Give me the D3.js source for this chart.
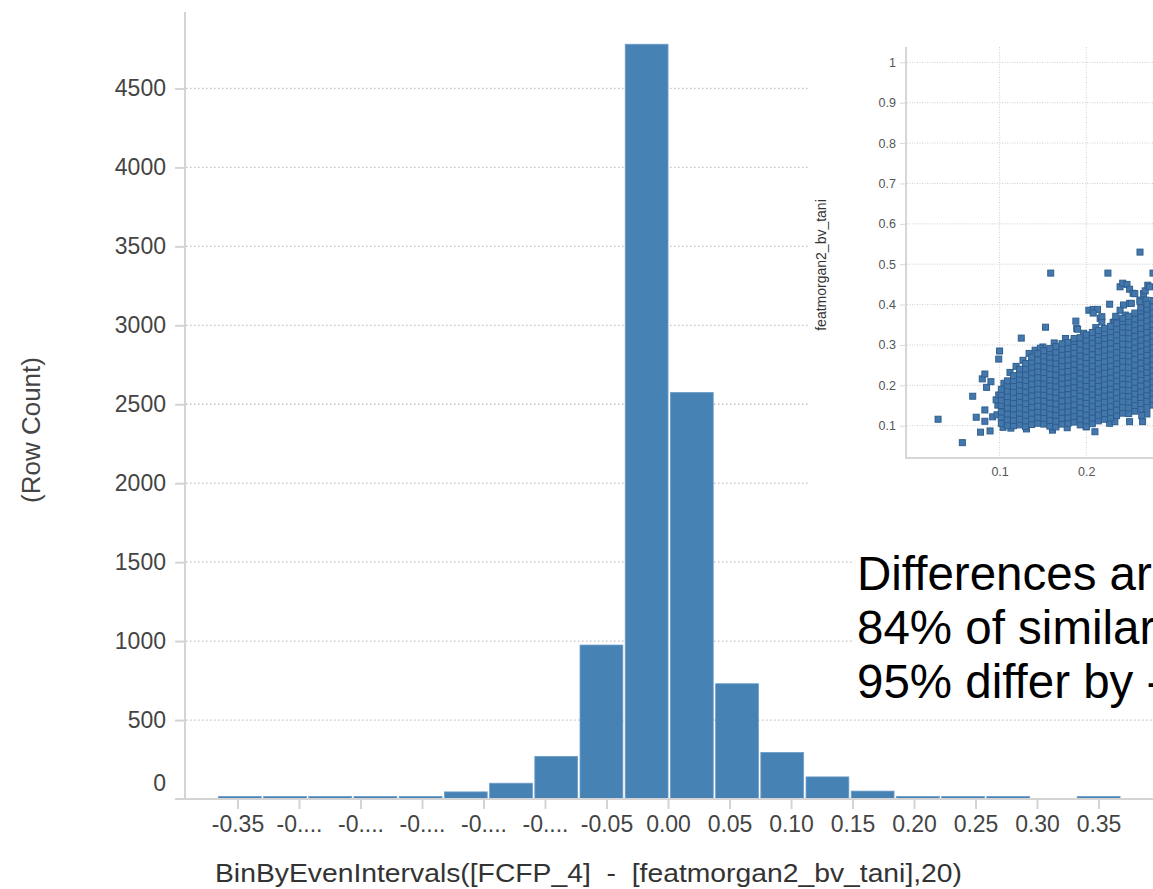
<!DOCTYPE html>
<html><head><meta charset="utf-8">
<script src="https://cdn.jsdelivr.net/npm/d3@7"></script>
<style>html,body{margin:0;padding:0;background:#fff;} svg{display:block;font-family:"Liberation Sans",Arial,sans-serif;}</style>
</head><body><svg id="c" width="1153" height="889"></svg>
<script>
// ---------- data ----------
const binCounts = [16,16,16,16,16,45,100,270,975,4780,2575,730,295,140,50,16,16,16,0,16];
const binRange = [-0.3665, 0.3685];
const xTickValues = [-0.35,-0.30,-0.25,-0.20,-0.15,-0.10,-0.05,0,0.05,0.10,0.15,0.20,0.25,0.30,0.35];
const xTickLabels = ["-0.35","-0....","-0....","-0....","-0....","-0....","-0.05","0.00","0.05","0.10","0.15","0.20","0.25","0.30","0.35"];
const yTickValues = [0,500,1000,1500,2000,2500,3000,3500,4000,4500];
const xTitle = "BinByEvenIntervals([FCFP_4]  -  [featmorgan2_bv_tani],20)";
const yTitle = "(Row Count)";

const insetYTicks = [0.1,0.2,0.3,0.4,0.5,0.6,0.7,0.8,0.9,1];
const insetYTickLabels = ["0.1","0.2","0.3","0.4","0.5","0.6","0.7","0.8","0.9","1"];
const insetXTicks = [0.1,0.2];
const insetXTickLabels = ["0.1","0.2"];
const insetYTitle = "featmorgan2_bv_tani";

const scatterOutliers = [
 [0.029,0.116],[0.057,0.058],[0.069,0.173],[0.073,0.121],[0.078,0.084],[0.083,0.139],[0.083,0.111],
 [0.080,0.216],[0.083,0.228],[0.085,0.195],[0.090,0.209],[0.089,0.087],[0.092,0.122],[0.097,0.127],
 [0.099,0.265],[0.100,0.285],[0.125,0.317],[0.153,0.344],[0.159,0.478],[0.225,0.478],[0.262,0.530],
 [0.141,0.287],[0.150,0.295],[0.188,0.359],[0.189,0.341],[0.190,0.339],[0.203,0.386],[0.208,0.388],[0.213,0.388],
 [0.208,0.379],[0.227,0.401],[0.216,0.366],[0.218,0.357],[0.218,0.370],[0.231,0.356],[0.233,0.357],[0.239,0.444],[0.242,0.453],
 [0.247,0.450],[0.250,0.438],[0.254,0.428],[0.256,0.427],[0.266,0.427],[0.268,0.434],[0.271,0.448],[0.273,0.444],[0.250,0.403],
 [0.252,0.403],[0.243,0.399],[0.262,0.411],[0.262,0.407],[0.269,0.411],[0.265,0.391],[0.266,0.386],[0.239,0.386],
 [0.245,0.374],[0.234,0.371],[0.250,0.366],[0.256,0.362],[0.263,0.360],[0.270,0.364],[0.276,0.380],[0.277,0.478],
 [0.161,0.089],[0.161,0.097],[0.210,0.085],[0.200,0.097],[0.227,0.106],[0.233,0.110],[0.250,0.110],
 [0.265,0.110],[0.270,0.129],[0.264,0.125],[0.104,0.096],[0.113,0.094],[0.131,0.092],[0.178,0.095],
 [0.098,0.151],[0.096,0.164],[0.099,0.176],[0.105,0.205],[0.112,0.232],[0.119,0.247],[0.127,0.262],
 [0.134,0.279],[0.147,0.292],[0.163,0.305],[0.176,0.316],[0.197,0.329],[0.211,0.343]
];
const scatterCore = [
 [0.102,[0.106,0.121,0.134,0.150,0.163,0.178,0.190]],
 [0.109,[0.101,0.115,0.129,0.144,0.158,0.172,0.186,0.199,0.211]],
 [0.116,[0.100,0.113,0.127,0.142,0.156,0.170,0.183,0.197,0.212,0.224]],
 [0.123,[0.102,0.116,0.131,0.144,0.159,0.173,0.187,0.201,0.215,0.228,0.240]],
 [0.130,[0.098,0.112,0.126,0.141,0.155,0.169,0.184,0.198,0.212,0.226,0.241,0.254]],
 [0.137,[0.103,0.117,0.131,0.146,0.160,0.174,0.189,0.203,0.217,0.231,0.245,0.258,0.270]],
 [0.144,[0.106,0.120,0.134,0.148,0.163,0.177,0.191,0.205,0.219,0.234,0.248,0.262,0.279]],
 [0.151,[0.104,0.118,0.133,0.147,0.161,0.176,0.190,0.204,0.218,0.232,0.246,0.260,0.273,0.286]],
 [0.158,[0.099,0.113,0.128,0.142,0.156,0.171,0.185,0.199,0.213,0.227,0.242,0.256,0.270,0.283,0.291]],
 [0.165,[0.097,0.111,0.126,0.140,0.154,0.169,0.183,0.197,0.211,0.226,0.240,0.254,0.268,0.282,0.296]],
 [0.172,[0.104,0.118,0.133,0.147,0.161,0.176,0.190,0.204,0.218,0.233,0.247,0.261,0.275,0.289,0.303]],
 [0.179,[0.106,0.120,0.134,0.149,0.163,0.177,0.192,0.206,0.220,0.234,0.249,0.263,0.277,0.291,0.306]],
 [0.186,[0.109,0.123,0.137,0.152,0.166,0.180,0.195,0.209,0.223,0.237,0.252,0.266,0.280,0.294,0.309,0.316]],
 [0.193,[0.102,0.116,0.131,0.145,0.159,0.174,0.188,0.202,0.216,0.231,0.245,0.259,0.273,0.288,0.302,0.318]],
 [0.200,[0.098,0.112,0.127,0.141,0.155,0.170,0.184,0.198,0.212,0.227,0.241,0.255,0.269,0.284,0.298,0.312,0.325]],
 [0.207,[0.105,0.119,0.134,0.148,0.162,0.177,0.191,0.205,0.219,0.234,0.248,0.262,0.276,0.291,0.305,0.319,0.331]],
 [0.214,[0.112,0.126,0.141,0.155,0.169,0.184,0.198,0.212,0.226,0.241,0.255,0.269,0.283,0.298,0.312,0.326,0.336]],
 [0.221,[0.116,0.130,0.145,0.159,0.173,0.188,0.202,0.216,0.230,0.245,0.259,0.273,0.287,0.302,0.316,0.330,0.341]],
 [0.228,[0.119,0.133,0.148,0.162,0.176,0.191,0.205,0.219,0.233,0.248,0.262,0.276,0.290,0.305,0.319,0.333,0.346]],
 [0.235,[0.125,0.139,0.154,0.168,0.182,0.197,0.211,0.225,0.239,0.254,0.268,0.282,0.296,0.311,0.325,0.339,0.354]],
 [0.242,[0.131,0.145,0.160,0.174,0.188,0.203,0.217,0.231,0.245,0.260,0.274,0.288,0.302,0.317,0.331,0.345,0.358,0.366]],
 [0.249,[0.130,0.144,0.159,0.173,0.187,0.202,0.216,0.230,0.244,0.259,0.273,0.287,0.301,0.316,0.330,0.344,0.358,0.371]],
 [0.256,[0.136,0.150,0.165,0.179,0.193,0.208,0.222,0.236,0.250,0.265,0.279,0.293,0.307,0.322,0.336,0.350,0.364,0.379]],
 [0.263,[0.141,0.155,0.170,0.184,0.198,0.213,0.227,0.241,0.255,0.270,0.284,0.298,0.312,0.327,0.341,0.355,0.369,0.384,0.392]],
 [0.270,[0.146,0.160,0.175,0.189,0.203,0.218,0.232,0.246,0.260,0.275,0.289,0.303,0.317,0.332,0.346,0.360,0.374,0.389,0.401]],
 [0.277,[0.151,0.165,0.180,0.194,0.208,0.223,0.237,0.251,0.265,0.280,0.294,0.308,0.322,0.337,0.351,0.365,0.379,0.394,0.410]]
];
const noteLines = ["Differences ar", "84% of similar", "95% differ by -"];

// ---------- drawing ----------
const svg = d3.select("#c");
svg.append("rect").attr("width",1153).attr("height",889).attr("fill","#fff");

const x = d3.scaleLinear().domain([-0.35,0.35]).range([237.5,1098.5]);
const y = d3.scaleLinear().domain([0,5000]).range([799,9.5]);
const axisCol = "#d4d4d4", gridCol = "#c2c2c2", tickText = "#444";

// gridlines
svg.append("g").selectAll("line").data(yTickValues.filter(v=>v>0)).join("line")
  .attr("x1",186).attr("x2",1153).attr("y1",d=>y(d)).attr("y2",d=>y(d))
  .attr("stroke",gridCol).attr("stroke-width",1.3).attr("stroke-dasharray","1.5,2.5");

// bars
const n = binCounts.length;
const edges = d3.range(n+1).map(i => binRange[0] + i*(binRange[1]-binRange[0])/n);
const bins = binCounts.map((c,i)=>({x0:edges[i],x1:edges[i+1],c}));
svg.append("g").selectAll("rect").data(bins.filter(b=>b.c>0)).join("rect")
  .attr("x",d=>x(d.x0)+1.2).attr("width",d=>x(d.x1)-x(d.x0)-2.4)
  .attr("y",d=>y(d.c)).attr("height",d=>y(0)-y(d.c))
  .attr("fill","#4682b4").attr("stroke","#6e9dc8").attr("stroke-width",0.8);

// axes lines
svg.append("line").attr("x1",185).attr("x2",185).attr("y1",12).attr("y2",800).attr("stroke",axisCol).attr("stroke-width",2);
svg.append("line").attr("x1",175).attr("x2",1153).attr("y1",799).attr("y2",799).attr("stroke",axisCol).attr("stroke-width",2);

// y axis ticks + labels
const yAx = d3.axisLeft(y).tickValues(yTickValues).tickSize(10).tickPadding(9).tickFormat(d3.format("d"));
const gy = svg.append("g").attr("transform","translate(185,0)").call(yAx);
gy.select(".domain").remove();
gy.selectAll(".tick line").attr("stroke",axisCol).attr("stroke-width",2);
gy.selectAll(".tick text").attr("fill",tickText).style("font-size","23px").style("font-family",'"Liberation Sans",Arial,sans-serif');
gy.selectAll(".tick").filter(d=>d===0).select("text").attr("y",-16);
gy.selectAll(".tick").filter(d=>d===0).select("line").remove();

// x axis ticks + labels
const xAx = d3.axisBottom(x).tickValues(xTickValues).tickSize(9).tickPadding(7)
  .tickFormat((d,i)=>xTickLabels[i]);
const gx = svg.append("g").attr("transform","translate(0,800)").call(xAx);
gx.select(".domain").remove();
gx.selectAll(".tick line").attr("stroke",axisCol).attr("stroke-width",2);
gx.selectAll(".tick text").attr("fill",tickText).style("font-size","23px").style("font-family",'"Liberation Sans",Arial,sans-serif');

// titles
svg.append("text").attr("x",215).attr("y",882).attr("fill","#333")
  .attr("textLength",747).attr("lengthAdjust","spacingAndGlyphs")
  .style("font-size","26px").style("white-space","pre").attr("xml:space","preserve").text(xTitle);
svg.append("text").attr("transform","translate(40,430) rotate(-90)").attr("text-anchor","middle")
  .attr("fill","#444").style("font-size","26px").text(yTitle);

// ---------- inset scatter ----------
const inset = svg.append("g");
inset.append("rect").attr("x",808).attr("y",18).attr("width",345).attr("height",477).attr("fill","#fff");
const sx = d3.scaleLinear().domain([-0.008,0.277]).range([906,1153]);
const sy = d3.scaleLinear().domain([0.02,1.038]).range([458,47]);

inset.append("g").selectAll("line").data(insetYTicks).join("line")
  .attr("x1",907).attr("x2",1153).attr("y1",d=>sy(d)).attr("y2",d=>sy(d))
  .attr("stroke","#cfcfcf").attr("stroke-width",1).attr("stroke-dasharray","1,1.5");
inset.append("g").selectAll("line").data(insetXTicks).join("line")
  .attr("x1",d=>sx(d)).attr("x2",d=>sx(d)).attr("y1",47).attr("y2",457)
  .attr("stroke","#cfcfcf").attr("stroke-width",1).attr("stroke-dasharray","1,1.5");

const sAxY = d3.axisLeft(sy).tickValues(insetYTicks).tickSize(6).tickPadding(4).tickFormat((d,i)=>insetYTickLabels[i]);
const gsy = inset.append("g").attr("transform","translate(906,0)").call(sAxY);
gsy.select(".domain").remove();
gsy.selectAll(".tick line").attr("stroke","#d8d8d8");
gsy.selectAll(".tick text").attr("fill","#555").style("font-size","12.5px").style("font-family",'"Liberation Sans",Arial,sans-serif');

const sAxX = d3.axisBottom(sx).tickValues(insetXTicks).tickSize(0).tickPadding(9).tickFormat((d,i)=>insetXTickLabels[i]);
const gsx = inset.append("g").attr("transform","translate(0,458)").call(sAxX);
gsx.select(".domain").remove();
gsx.selectAll(".tick text").attr("fill","#555").style("font-size","12.5px").style("font-family",'"Liberation Sans",Arial,sans-serif');

inset.append("line").attr("x1",906).attr("x2",906).attr("y1",47).attr("y2",459).attr("stroke","#d6d6d6").attr("stroke-width",2);
inset.append("line").attr("x1",905).attr("x2",1153).attr("y1",458).attr("y2",458).attr("stroke","#d6d6d6").attr("stroke-width",2);

inset.append("text").attr("transform","translate(826,265) rotate(-90)").attr("text-anchor","middle")
  .attr("fill","#333").style("font-size","14px").text(insetYTitle);

const pts = scatterOutliers.concat(scatterCore.flatMap(([xv,ys])=>ys.map(yv=>[xv,yv])));
inset.append("g").selectAll("rect").data(pts).join("rect")
  .attr("x",d=>sx(d[0])-3).attr("y",d=>sy(d[1])-3).attr("width",6).attr("height",6)
  .attr("fill","#4478ad").attr("stroke","#2f5f8e").attr("stroke-width",1);

// ---------- note ----------
svg.append("rect").attr("x",853).attr("y",545).attr("width",300).attr("height",165).attr("fill","#fff");
svg.append("g").selectAll("text").data(noteLines).join("text")
  .attr("x",857).attr("y",(d,i)=>590+i*54).attr("fill","#000")
  .style("font-size","47.5px").style("font-family",'"Liberation Sans",Arial,sans-serif').text(d=>d);
</script></body></html>
